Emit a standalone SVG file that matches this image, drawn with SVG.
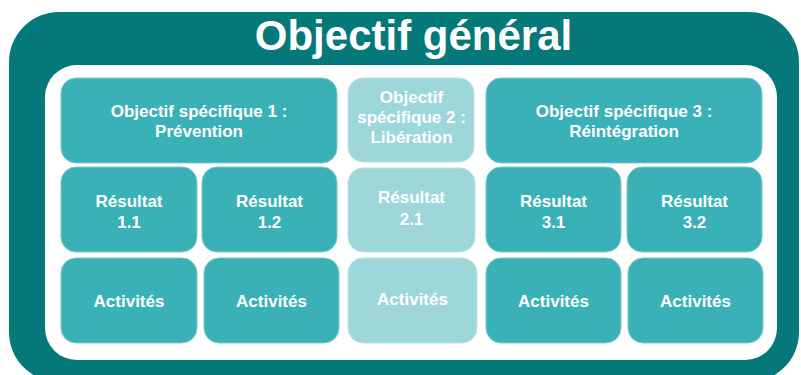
<svg xmlns="http://www.w3.org/2000/svg" width="801" height="375" viewBox="0 0 801 375">
  <style>
    .box { fill: #3ab1b7; stroke: #7cc9cd; stroke-width: 1; }
    .light { fill: #9dd7da; stroke: #b9e3e5; stroke-width: 1; }
    .lbl { font-family: "Liberation Sans", Arial, Helvetica, sans-serif; font-weight: bold; font-size: 17px; fill: #ffffff; text-anchor: middle; }
    .title { font-family: "Liberation Sans", Arial, Helvetica, sans-serif; font-weight: bold; font-size: 42px; fill: #ffffff; text-anchor: middle; }
  </style>
  <rect x="0" y="0" width="801" height="375" fill="#ffffff"/>
  <g id="objectif-general">
    <rect x="9" y="12" width="790" height="370" rx="50" ry="50" fill="#05787a"/>
    <rect x="45" y="65" width="732" height="295" rx="32" ry="32" fill="#ffffff"/>
    <text class="title" x="413.5" y="50">Objectif général</text>
  </g>
  <g id="os1">
    <rect class="box" x="61" y="78" width="276" height="85" rx="15"/>
    <text class="lbl" x="199" y="117">Objectif spécifique 1 :</text>
    <text class="lbl" x="199" y="137">Prévention</text>
  </g>
  <g id="os2">
    <rect class="light" x="348" y="78" width="126" height="84" rx="15"/>
    <text class="lbl" x="411.5" y="103">Objectif</text>
    <text class="lbl" x="411.5" y="123">spécifique 2 :</text>
    <text class="lbl" x="411.5" y="143">Libération</text>
  </g>
  <g id="os3">
    <rect class="box" x="486" y="78" width="276" height="85" rx="15"/>
    <text class="lbl" x="624" y="117">Objectif spécifique 3 :</text>
    <text class="lbl" x="624" y="137">Réintégration</text>
  </g>
  <g id="r11">
    <rect class="box" x="61" y="167" width="136" height="85" rx="15"/>
    <text class="lbl" x="129" y="207">Résultat</text>
    <text class="lbl" x="129" y="228">1.1</text>
  </g>
  <g id="r12">
    <rect class="box" x="202" y="167" width="135" height="85" rx="15"/>
    <text class="lbl" x="269.5" y="207">Résultat</text>
    <text class="lbl" x="269.5" y="228">1.2</text>
  </g>
  <g id="r21">
    <rect class="light" x="348" y="168" width="127" height="84" rx="15"/>
    <text class="lbl" x="411.5" y="203">Résultat</text>
    <text class="lbl" x="411.5" y="225">2.1</text>
  </g>
  <g id="r31">
    <rect class="box" x="486" y="167" width="135" height="85" rx="15"/>
    <text class="lbl" x="553.5" y="207">Résultat</text>
    <text class="lbl" x="553.5" y="228">3.1</text>
  </g>
  <g id="r32">
    <rect class="box" x="627" y="167" width="135" height="85" rx="15"/>
    <text class="lbl" x="694.5" y="207">Résultat</text>
    <text class="lbl" x="694.5" y="228">3.2</text>
  </g>
  <g id="a11">
    <rect class="box" x="61" y="258" width="136" height="85" rx="15"/>
    <text class="lbl" x="129" y="307">Activités</text>
  </g>
  <g id="a12">
    <rect class="box" x="204" y="258" width="135" height="85" rx="15"/>
    <text class="lbl" x="271.5" y="307">Activités</text>
  </g>
  <g id="a21">
    <rect class="light" x="348" y="258" width="129" height="85" rx="15"/>
    <text class="lbl" x="412.5" y="305">Activités</text>
  </g>
  <g id="a31">
    <rect class="box" x="486" y="258" width="135" height="85" rx="15"/>
    <text class="lbl" x="553.5" y="307">Activités</text>
  </g>
  <g id="a32">
    <rect class="box" x="628" y="258" width="135" height="85" rx="15"/>
    <text class="lbl" x="695.5" y="307">Activités</text>
  </g>
  <g id="connectors"/>
</svg>
